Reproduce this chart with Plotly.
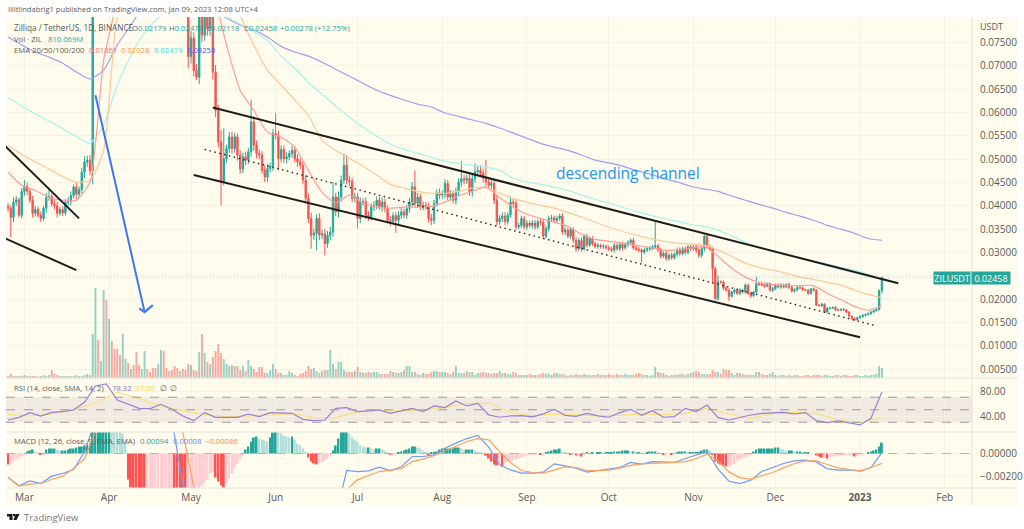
import pandas as pd
import plotly.graph_objects as go

W, H = 1024, 529
dates = [d.strftime("%Y-%m-%d") for d in pd.date_range("2022-02-23", "2023-01-09")]

# daily closes, in thousandths of a USDT
closes = [
 39.5,37.5,40.8,41.3,38.0,43.1,44.2,43.1,41.2,38.4,39.2,38.0,37.3,39.5,41.8,42.0,40.4,40.0,38.4,39.2,38.5,40.8,41.0,42.2,44.0,42.5,43.5,47.2,49.4,49.8,47.6,
 92,105,100,115,150,130,160,145,135,125,115,125,130,120,125,118,108,103,108,115,110,107,104,100,103,112,102,98,95,92,90,88,90,88,84,72,76,69,67.6,82,76.6,81,78,83,68.7,60.5,
 53.7,45.1,50.1,52.3,54.8,52.3,54.8,50.9,47.9,50.5,49.8,51.6,58.0,53.0,51.2,50.9,47.6,46.2,48.0,48.5,55.5,55.1,50.1,52.1,50.1,50.5,51.2,51.9,50.1,49.4,48.7,45.5,41.6,37.3,33.7,34.1,37.3,33.7,34.0,31.9,33.7,34.4,41.9,38.7,41.9,45.5,48.7,45.5,45.2,41.6,41.9,37.3,40.8,40.9,38.0,37.6,39.8,40.1,41.2,39.8,40.8,39.4,36.9,36.6,37.9,36.9,38.0,38.7,38.0,39.4,40.8,44.1,40.5,41.9,39.8,40.1,39.8,37.3,36.9,40.5,42.8,42.3,42.5,44.8,41.9,42.6,41.2,43.0,45.1,45.8,45.5,45.9,43.0,45.8,47.3,47.6,47.0,46.0,45.1,44.4,44.8,41.2,36.6,37.3,37.8,36.6,38.0,40.8,40.6,
 35.5,35.8,37.3,35.5,36.3,35.8,36.3,35.5,36.6,36.5,33.5,35.1,37.3,37.4,36.9,37.3,37.8,34.4,34.8,33.5,34.9,32.6,30.8,32.6,30.8,33.5,31.6,33.0,31.9,31.3,31.5,31.2,31.3,31.0,30.8,30.5,31.5,30.8,31.7,31.0,31.7,32.1,32.6,31.0,30.7,30.5,30.1,30.5,30.8,30.9,31.2,31.4,30.5,29.2,29.8,28.7,29.4,28.9,29.6,30.5,29.8,30.8,30.0,31.2,30.8,31.2,30.5,29.4,30.8,33.5,31.2,30.8,26.5,
 20.1,23.7,23.6,22.3,21.9,20.6,21.5,21.9,21.2,21.9,21.5,23.0,21.2,20.7,21.5,23.3,23.2,23.0,22.8,23.3,21.9,22.2,23.0,22.6,23.0,22.6,23.1,22.5,21.7,22.0,22.5,22.4,22.0,21.9,21.2,22.2,21.9,18.7,18.6,18.9,17.2,18.0,18.1,18.2,17.7,17.6,17.8,17.7,17.2,16.3,15.8,15.6,16.0,16.3,16.5,16.7,16.9,17.2,17.5,17.8,21.8,24.58]

wicks = [
 .8,.6,1,.8,.5,.7,1,.8,.6,.9,.7,.6,.8,.5,1,.7,.6,.8,.9,.5,.7,.6,.8,.9,.6,1,.7,.9,1.2,1,1.1,
 3,4,3,5,6,4,6,5,4,3,4,3,4,3,3,4,3,2,3,3,3,2,3,3,2,3,3,2,2,3,2,2,3,2,1.5,1.5,1.5,1.2,1.4,1.5,1.5,1.2,1.5,1.5,1.6,1.5,
 1.2,1,1.2,.8,1,1.1,.9,1.2,1,.9,1.1,.8,1,1.2,1,.9,.8,1.1,1,.8,1,.9,1,.8,.9,1,.7,.9,.8,1,.8,.9,1.1,1,1.2,1,.9,1.1,.8,1,.9,1.1,1,.9,1.2,1,.8,.9,1,.8,.9,.8,1,.7,.9,.8,.7,.9,.8,.7,1,.8,.7,.9,.7,.8,.9,.8,.7,.8,.9,1,.8,.9,.7,.8,.7,.9,1,.8,.7,.9,.8,.9,.7,.8,.7,.9,.8,1,.9,.8,.9,1,.8,.9,.8,1,.9,.8,.7,.8,.9,.7,.8,.8,
 .6,.5,.7,.6,.5,.6,.5,.6,.5,.7,.6,.5,.7,.6,.5,.6,.7,.5,.6,.5,.6,.7,.5,.6,.5,.7,.5,.6,.4,.5,.4,.5,.4,.5,.4,.5,.4,.5,.4,.5,.4,.5,.6,.4,.5,.4,.5,.4,.5,.4,.5,.4,.5,.4,.5,.4,.5,.4,.5,.4,.5,.4,.5,.6,.4,.5,.4,.5,.5,.6,.6,.5,.6,
 .4,.5,.4,.5,.4,.3,.4,.3,.4,.3,.4,.3,.4,.3,.4,.3,.4,.3,.3,.4,.3,.4,.3,.3,.4,.3,.3,.4,.3,.3,.4,.3,.3,.4,.3,.3,.2,.3,.2,.3,.2,.2,.3,.2,.3,.2,.2,.3,.2,.2,.3,.2,.2,.2,.3,.2,.2,.3,.2,.2,.3,.2,.2,.3,.2]

# wick ends that stand out from the rest: index -> level
notable_highs = {6:45.5,15:44.0,78:56.2,79:56.6,84:55.5,89:62.8,98:59.9,119:45.1,123:51.2,124:50.9,149:47.6,166:49.6,171:49.1,173:48.7,175:49.8,184:42.0,237:36.9,255:33.8,256:33.8,260:25.1,274:24.8,320:24.78}
notable_lows = {1:33.3,66:69.5,69:67.0,78:40.1,79:44.4,99:47.6,111:30.8,113:30.5,116:29.4,128:35.1,142:34.2,155:35.8,232:27.8,258:23.3,259:19.7,264:19.6,319:17.5,320:21.18}

volume_read = [
 2,4,2,2,2,2,3,2,2,2,2,1.5,2,3,2,3,8,4,3,2,2,2,2,2,2,3,2,2,3,4,3,
 44,90,38,17,88,78,59,37,29,29,23,44,19,15,9,13,26,13,9,27,9,6,10,10,14,28,27,10,7,8,12,10,7,9,8,14,13,8,7,26,44,25,16,14,21,27,34,25,19,14,12,13,12,12,8,12,7,18,12,9,6,11,11,5,5,8,14,9,5,5,3,3,7,5,3,2,4,5,7,12,9,10,7,5,7,8,8,28,14,9,16,
 16,8,6,6,6,7,11,6,5,5,6,5,6,6,4,4,4,4,7,6,5,5,6,8,12,12,6,6,4,3,5,4,4,6,7,7,6,6,6,5,4,6,12,5,5,5,7,6,6,3,5,5,6,5,5,4,5,
 5,7,5,5,4,4,6,5,3,3,3,3,4,3,3,3,4,5,4,4,3,5,5,4,4,3,2,3,3,4,3,3,4,3,3,3,3,4,3,3,3,4,3,3,4,3,3,4,3,3,3,4,5,4,3,3,2,3,11,6,
 5,5,3,2,3,3,3,4,4,3,4,5,6,7,6,4,4,4,4,8,6,6,4,9,8,8,5,3,5,5,4,3,3,3,3,6,6,4,3,3,4,6,3,
 2,3,3,2,3,2,3,3,2,2,3,3,2,3,3,3,2,3,3,2,2,3,3,2,3,3,2,2,3,3,2,2,3,2,3,3,4,12,10]
VOLUME_UNIT = 81e6

# moving averages, thousandths of a USDT, one reading every fifth day
ema20 = [47.2,44.4,43.3,41.8,41.2,41.2,45.1,71.2,84.1,97.0,105.6,109.9,109.9,105.6,97.0,86.3,74.5,64.8,60.5,55.8,54.7,52.6,47.6,42.9,40.6,42.3,40.6,39.7,39.5,39.7,39.7,39.9,40.8,42.1,43.1,44.0,41.8,39.7,38.2,37.3,36.5,35.6,33.9,32.8,32.4,32.0,31.5,31.1,30.5,30.5,30.9,31.3,29.2,26.6,24.7,23.6,23.1,22.9,22.9,22.9,21.2,19.9,18.4,17.6,18.61]
ema50 = [53.0,51.0,49.4,47.9,46.3,45.1,45.5,51.9,80.9,88.4,94.8,99.1,102.4,103.4,101.3,97.0,89.5,80.9,74.5,69.1,65.9,62.7,59.4,54.1,51.9,50.2,48.5,46.6,44.6,43.8,43.1,42.7,42.7,43.1,43.8,44.0,42.7,41.6,40.8,40.1,39.5,38.6,37.6,36.5,35.4,34.5,33.7,33.0,32.4,32.0,31.8,31.5,30.5,29.2,27.7,26.8,26.2,25.5,24.7,24.2,23.6,23.0,21.9,21.0,20.28]
ema100 = [63.3,61.4,59.7,58.2,56.6,54.9,53.4,57.3,65.9,72.3,77.2,80.3,82.4,83.7,84.1,82.4,80.5,79.0,77.3,75.5,72.1,69.5,66.5,63.9,61.4,59.0,56.9,54.9,53.2,52.1,51.3,50.4,49.6,49.1,48.7,48.3,47.6,45.9,45.1,44.6,44.0,43.3,42.3,41.4,40.6,39.7,38.8,38.0,37.3,36.7,36.0,35.6,34.8,33.5,32.2,31.1,30.3,29.4,28.8,28.1,27.5,26.8,26.2,25.3,24.19]
ema200 = [76.2,74.5,73.0,71.9,70.6,68.7,67.2,69.1,74.5,78.8,83.0,85.2,86.7,86.7,85.4,82.4,80.3,78.8,77.7,76.2,74.2,73.0,72.1,70.8,69.3,67.8,66.3,64.8,63.7,62.7,61.8,61.2,59.9,59.2,58.4,57.7,56.7,55.6,54.5,53.4,52.6,51.9,50.9,49.8,49.2,48.5,47.6,46.8,45.9,45.1,44.2,43.6,43.1,42.1,41.2,40.3,39.5,38.6,37.8,36.9,35.8,35.0,34.1,33.0,32.58]

# RSI, one reading every fourth day; its SMA, one every eighth day
rsi = [33.6,37.9,45.4,40,45.9,47,49.6,61.9,88,91.2,65.6,58.7,52.3,51.8,58.7,50.7,40,32.6,45.4,37.9,37.4,37.9,43.2,39,45.4,44.3,44.3,34.7,32.6,33.6,52.3,
 53.4,47,48.1,49.7,44.3,48.1,52.3,47,56.1,53.4,64.1,56.1,60.3,41.7,38,40.1,40.6,38.5,43.3,50.7,41.1,39.5,44.3,40.1,38,45.4,50.7,41.1,48.6,38,39,
 52.3,47,57.6,37.4,33.6,37.9,41.6,44.3,45.4,45.9,43.2,45.4,32.6,29.4,32.1,29.4,25.7,36.3,78.32]
rsi_sma = [42.7,40,43.2,50.7,60.3,77.9,68.3,56,48.6,42.7,39,40,41.6,44.3,37.9,37.4,46.9,49.1,48.1,49.7,53.4,60.3,60.3,46,40.1,43.3,42.2,40.1,41.1,43.3,42.2,44.3,52.3,43.2,36.3,44.3,45.9,44.3,33.6,29.4,37]

# MACD and signal, thousandths of a USDT, one reading every fourth day
macd_line = [-2.09,-2.81,-2.38,-2.61,-1.97,-1.74,-1.39,.15,2.9,5.8,8.7,10.7,11.6,11.6,9.0,2.9,-2.61,-4.35,-5.8,-6.67,-7.83,-8.41,-8.12,-7.83,-7.54,-6.96,-6.67,-6.38,-6.09,-5.8,-5.51,
 -1.48,-1.57,-1.51,-1.19,-1.51,-1.16,-.26,-.26,-.12,.46,.9,1.3,1.57,.55,-.99,-1.42,-1.71,-1.71,-1.62,-.9,-1.07,-1.28,-1.62,-1.48,-1.36,-1.22,-.78,-.93,-.7,-.75,-.78,
 -.43,-.17,.15,-1.36,-2.41,-2.61,-2.32,-1.57,-1.19,-.87,-.64,-.58,-.73,-1.33,-1.45,-1.42,-1.54,-1.22,.08]
macd_signal = [-2.09,-2.84,-2.67,-2.61,-2.26,-1.97,-1.31,-.44,1.89,4.35,6.67,8.7,9.86,10.2,9.57,5.8,1.86,-2.9,-5.8,-7.25,-8.41,-9.28,-9.57,-9.72,-9.57,-9.28,-8.84,-8.0,-6.5,-5.5,-4.3,
 -3.16,-2.29,-1.91,-1.57,-1.45,-1.31,-.7,-.49,-.2,.23,.61,1.04,1.3,1.19,.17,-.78,-1.48,-1.65,-1.71,-1.42,-1.16,-1.22,-1.48,-1.48,-1.45,-1.28,-1.04,-.9,-.87,-.78,-.78,
 -.7,-.44,-.06,-.64,-1.6,-2.12,-2.23,-1.97,-1.65,-1.25,-.87,-.64,-.64,-.96,-1.25,-1.39,-1.51,-1.22,-.86]
hist_read = [
 -11,-11,-8,-6,-4,-3,-2,2,3,4,2,1,-1,-1,4,5,5,5,4,3,3,3,4,5,5,6,7,7,8,9,9,
 25,30,35,38,40,42,44,40,36,30,25,20,12,-26,-34,-36,-40,-44,-48,-50,-48,-46,-44,-42,-41,-40,-39,-38,-37,-36,-38,-42,-46,-50,-54,-50,-46,-44,-42,-38,-32,-29,-26,-20,-18,-24,-28,-32,-34,-30,-25,-20,-14,-10,-6,-2,4,7,12,16,17,15,14,13,12,16,21,22,21,20,18,17,16,17,14,10,8,5,2,-4,-8,-10,-11,-10,-9,-7,-5,-3,
 3,8,15,22,23,24,20,17,14,12,8,7,6,6,5,4,5,5,4,3,1,-1,-1,-1,1,2,3,4,5,7,7,6,5,3,2,-1,1,1,2,4,5,5,5,5,5,6,6,5,4,4,4,4,3,2,1,0,-2,-5,-8,-11,-12,-12,-13,
 -9,-8,-8,-7,-6,-5,-4,-3,-2,-1,-1,-1,0,-1,-1,1,2,3,4,4,5,2,1,0,-1,-1,-2,-2,-3,-1,1,0,1,0,1,1,0,1,1,1,2,2,2,3,3,3,2,2,1,1,0,0,1,2,2,2,1,0,-1,-1,0,-1,0,1,
 2,2,2,1,1,1,1,1,3,4,4,3,-1,-8,-10,-11,-12,-13,-13,-12,-10,-8,-6,-5,-4,-3,-1,2,4,5,5,5,5,5,5,6,6,5,4,3,3,3,2,2,2,1,1,1,0,0,-2,-3,-4,-4,-5,-4,-3,-3,-2,-2,-2,-2,-2,-2,-3,-3,-1,-1,0,1,2,3,4,7,10.8]
HIST_UNIT = 0.000087

# drawn trend lines: (dates, prices in thousandths)
channel_top = (["2022-05-09", "2023-01-15"], [61.1, 23.4])
channel_low = (["2022-05-02", "2023-01-01"], [46.6, 11.8])
channel_mid = (["2022-05-06", "2023-01-06"], [52.1, 14.4])
wedge_top = (["2022-02-22", "2022-03-21"], [52.8, 37.3])
wedge_low = (["2022-02-22", "2022-03-20"], [33.0, 26.2])
arrow_shaft = (["2022-03-27", "2022-04-14"], [63.7, 17.2])
arrow_head = (["2022-04-12", "2022-04-14", "2022-04-17"], [18.0, 17.2, 18.7])

month_ticks = ["2022-03-01","2022-04-01","2022-05-01","2022-06-01","2022-07-01","2022-08-01","2022-09-01","2022-10-01","2022-11-01","2022-12-01","2023-01-01","2023-02-01"]
month_text = ["Mar","Apr","May","Jun","Jul","Aug","Sep","Oct","Nov","Dec","<b>2023</b>","Feb"]
price_ticks = [.005,.01,.015,.02,.025,.03,.035,.04,.045,.05,.055,.06,.065,.07,.075]
# the 0.02500 label sits behind the last-price tag in the reference
price_text = ["0.00500","0.01000","0.01500","0.02000","","0.03000","0.03500","0.04000","0.04500","0.05000","0.05500","0.06000","0.06500","0.07000","0.07500"]

counts = {n: len(s) for n, s in dict(closes=closes, wicks=wicks, volume=volume_read, hist=hist_read, e20=ema20, e50=ema50, e100=ema100, e200=ema200, rsi=rsi, ml=macd_line, ms=macd_signal, sma=rsi_sma).items()}
expected = dict(closes=321, wicks=321, volume=321, hist=321, e20=65, e50=65, e100=65, e200=65, rsi=81, ml=81, ms=81, sma=41)
assert counts == expected, {n: counts[n] for n in counts if counts[n] != expected[n]}

UP, DOWN = "#26a69a", "#f6534f"
CREAM, GRID, EDGE = "#fffcee", "#f5f2e3", "#e6e4d6"
FONT = "Open Sans"
TEXT = "#5a5a5a"

opens = [39.8] + closes[:-1]
highs, lows = [], []
for i, (o, c, w) in enumerate(zip(opens, closes, wicks)):
    highs.append(notable_highs.get(i, max(o, c) + w))
    lows.append(notable_lows.get(i, min(o, c) - w))

k = lambda seq: [v / 1000 for v in seq]
fig = go.Figure()

vol_colors = ["rgba(38,166,154,0.5)" if c >= o else "rgba(239,83,80,0.5)" for o, c in zip(opens, closes)]
fig.add_bar(x=dates, y=[v * VOLUME_UNIT for v in volume_read], marker_color=vol_colors, marker_line_width=0, yaxis="y4")

for series, step, color in [(ema200, 5, "#a49bf2"), (ema100, 5, "#a5f5ee"), (ema50, 5, "#ffc894"), (ema20, 5, "#ff9e96")]:
    fig.add_scatter(x=dates[::step], y=k(series), mode="lines", line=dict(color=color, width=1.2, shape="spline", smoothing=0.6), yaxis="y")

fig.add_candlestick(x=dates, open=k(opens), high=k(highs), low=k(lows), close=k(closes), yaxis="y",
    increasing=dict(line=dict(color=UP, width=1), fillcolor=UP),
    decreasing=dict(line=dict(color=DOWN, width=1), fillcolor=DOWN), whiskerwidth=0)

for (xs, ys), color, width, dash in [
    (channel_top, "#1c1c1c", 2, "solid"), (channel_low, "#1c1c1c", 2, "solid"),
    (channel_mid, "#222222", 1.4, "1.5px,3.5px"), (wedge_top, "#1c1c1c", 2, "solid"), (wedge_low, "#1c1c1c", 2, "solid"),
    (arrow_shaft, "#3a78f2", 2, "solid"), (arrow_head, "#3a78f2", 2, "solid")]:
    fig.add_scatter(x=xs, y=k(ys), mode="lines", line=dict(color=color, width=width, dash=dash), yaxis="y")

fig.add_scatter(x=dates[::8], y=rsi_sma, mode="lines", line=dict(color="#f7e27a", width=1.2), yaxis="y2")
fig.add_scatter(x=dates[::4], y=rsi, mode="lines", line=dict(color="#9b7ed0", width=1.2), yaxis="y2")

hist = [v * HIST_UNIT for v in hist_read]
hist_colors = []
for i, v in enumerate(hist):
    prev = hist[i - 1] if i else 0
    if v >= 0:
        hist_colors.append("#26a69a" if v >= prev else "#b2dfdb")
    else:
        hist_colors.append("#ff5252" if v < prev else "#ffcdd2")
fig.add_bar(x=dates, y=hist, marker_color=hist_colors, marker_line_width=0, yaxis="y3")
fig.add_scatter(x=dates[::4], y=[v / 1000 for v in macd_line], mode="lines", line=dict(color="#6f9cf5", width=1.2), yaxis="y3")
fig.add_scatter(x=dates[::4], y=[v / 1000 for v in macd_signal], mode="lines", line=dict(color="#f9a260", width=1.2), yaxis="y3")

px = lambda x: x / W
py = lambda y: 1 - y / H
tick = dict(family=FONT, size=10, color=TEXT)

def note(x, y, text, color=TEXT, size=7.7):
    fig.add_annotation(xref="paper", yref="paper", x=px(x), y=py(y), text=text, showarrow=False,
        xanchor="left", yanchor="middle", font=dict(family=FONT, size=size, color=color))

note(6, 9.5, "lilitlindabrig1 published on TradingView.com, Jan 09, 2023 12:08 UTC+4", TEXT, 7.6)
note(12, 28, "Zilliqa / TetherUS, 1D, BINANCE", TEXT, 8.2)
for x, a, b in [(130, "O", "0.02179"), (167, "H", "0.02478"), (205, "L", "0.02118"), (242, "C", "0.02458")]:
    note(x, 28, a + f'<span style="color:{UP}">{b}</span>', TEXT, 7.7)
note(278, 28, "+0.00278 (+12.75%)", UP)
note(12, 38.5, "Vol · ZIL")
note(46, 38.5, "810.069M", UP)
note(12, 49.5, "EMA 20/50/100/200")
for x, t, c in [(87, "0.01861", "#f6736c"), (119, "0.02028", "#ff9a3c"), (152, "0.02419", "#33e0d8"), (185, "0.03258", "#5a55e0")]:
    note(x, 49.5, t, c)
note(12, 388, "RSI (14, close, SMA, 14, 2)")
note(110, 388, "78.32", "#9575cd")
note(133, 388, "37.00", "#f5d93c")
note(158, 388, "∅")
note(168, 388, "∅")
note(12, 441, "MACD (12, 26, close, 9, EMA, EMA)")
note(138, 441, "0.00094", UP)
note(171, 441, "0.00008", "#5b8df0")
note(203, 441, "−0.00086", "#f98a3c")
note(978, 26, "USDT", TEXT, 9)
note(22, 517, "TradingView", "#777777", 9.5)

fig.add_annotation(xref="x", yref="y", x="2022-10-08", y=0.0470, text="descending channel", showarrow=False,
    font=dict(family=FONT, size=15.5, color="#2196f3"))
for cx, w, t, c in [(952, 36, "ZILUSDT", "#ffffff"), (991, 38, "0.02458", "#ffffff")]:
    fig.add_annotation(xref="paper", yref="paper", x=px(cx), y=py(278), text=t, showarrow=False, width=w, height=12,
        xanchor="center", yanchor="middle", borderpad=0, bgcolor=UP, font=dict(family=FONT, size=9, color=c))

shapes = [
    dict(type="rect", xref="paper", yref="paper", x0=px(6), x1=px(1018), y0=py(505), y1=py(17), fillcolor=CREAM, line_width=0, layer="below"),
    dict(type="rect", xref="paper", yref="y2", x0=px(6), x1=px(972), y0=30, y1=70, fillcolor="rgba(120,90,150,0.11)", line_width=0, layer="below"),
    dict(type="line", xref="paper", yref="y", x0=px(6), x1=px(972), y0=0.02458, y1=0.02458, line=dict(color="rgba(38,166,154,0.35)", width=1, dash="1px,2px")),
]
for level in (70, 50, 30):
    shapes.append(dict(type="line", xref="paper", yref="y2", x0=px(6), x1=px(972), y0=level, y1=level, line=dict(color="#9a9a9a", width=1, dash="dash")))
shapes.append(dict(type="line", xref="paper", yref="y3", x0=px(6), x1=px(972), y0=0, y1=0, line=dict(color="#b5b5b5", width=1, dash="dash")))
for y in (378, 432, 488):
    shapes.append(dict(type="line", xref="paper", yref="paper", x0=px(6), x1=px(1018), y0=py(y), y1=py(y), line=dict(color=EDGE, width=1)))
shapes.append(dict(type="line", xref="paper", yref="paper", x0=px(972), x1=px(972), y0=py(505), y1=py(17), line=dict(color=EDGE, width=1)))

def poly(points):
    return "M " + " L ".join(f"{px(a):.5f},{py(b):.5f}" for a, b in points) + " Z"
for pts in ([(7, 514), (12.5, 514), (12.5, 520), (9.5, 520), (9.5, 516.5), (7, 516.5)],
            [(13, 514), (15, 514), (15, 516), (13, 516)],
            [(15.5, 514), (19.5, 514), (16.5, 520), (13.5, 520)]):
    shapes.append(dict(type="path", xref="paper", yref="paper", path=poly(pts), fillcolor="#131722", line_width=0))

fig.update_layout(
    width=W, height=H, margin=dict(l=0, r=0, t=0, b=0), showlegend=False,
    paper_bgcolor="#ffffff", plot_bgcolor="rgba(0,0,0,0)", barmode="overlay", bargap=0.3,
    font=dict(family=FONT), shapes=shapes, hovermode=False,
    xaxis=dict(domain=[px(6), px(972)], range=["2022-02-22 06:00", "2023-02-11"], anchor="y3", type="date",
        tickmode="array", tickvals=month_ticks, ticktext=month_text, tickfont=tick, ticks="", showgrid=True,
        gridcolor=GRID, gridwidth=1, showline=False, zeroline=False, rangeslider=dict(visible=False), ticklabelstandoff=2),
    yaxis=dict(domain=[py(378), py(17)], range=[0.00307, 0.0805], side="right", anchor="x",
        tickmode="array", tickvals=price_ticks, ticktext=price_text, tickfont=tick, gridcolor=GRID, zeroline=False, showline=False, ticklabelstandoff=7),
    yaxis4=dict(domain=[py(378), py(17)], overlaying="y", range=[0, 361 * VOLUME_UNIT], showgrid=False, showticklabels=False, zeroline=False, side="left", anchor="x"),
    yaxis2=dict(domain=[py(432), py(378)], range=[14.4, 100.8], side="right", anchor="x",
        tickmode="array", tickvals=[40, 80], tickformat=".2f", tickfont=tick, gridcolor=GRID, zeroline=False, ticklabelstandoff=7),
    yaxis3=dict(domain=[py(488), py(432)], range=[-0.00300, 0.00187], side="right", anchor="x",
        tickmode="array", tickvals=[0, -0.002], ticktext=["0.00000", "−0.00200"], tickfont=tick, gridcolor=GRID, zeroline=False, ticklabelstandoff=7),
)

fig.write_html("out.html", config=dict(displayModeBar=False),
    post_script="document.body.style.margin='0';document.documentElement.style.overflow='hidden';")
